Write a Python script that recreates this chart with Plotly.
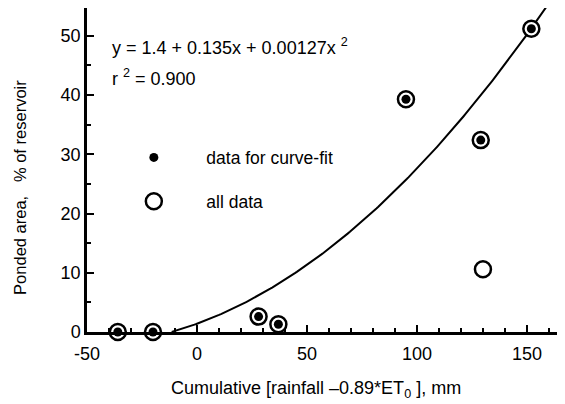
import numpy as np
import plotly.graph_objects as go

# Data
fit_x = [-36, -20, 28, 37, 95, 129, 152]
fit_y = [0, 0, 2.6, 1.3, 39.3, 32.4, 51.2]
all_x = [-36, -20, 28, 37, 95, 129, 152, 130]
all_y = [0, 0, 2.6, 1.3, 39.3, 32.4, 51.2, 10.6]
x_tickvals = [-50, 0, 50, 100, 150]
x_ticktext = ["-50", "0", "50", "100", "150"]
y_tickvals = [0, 10, 20, 30, 40, 50]

# Fitted curve coefficients (from the equation on the chart)
c0, c1, c2 = 1.4, 0.135, 0.00127
curve_x = np.linspace(-11.5, 160, 200)
curve_y = c0 + c1 * curve_x + c2 * curve_x ** 2

FONT = "Liberation Sans, Arial, Helvetica, sans-serif"
NB = "\u00a0"

fig = go.Figure()
fig.add_trace(go.Scatter(x=curve_x, y=curve_y, mode="lines",
                         line=dict(color="black", width=2), showlegend=False,
                         cliponaxis=True))
fig.add_trace(go.Scatter(x=all_x, y=all_y, mode="markers", name="all data",
                         legendgroup="b", legendrank=2,
                         marker=dict(symbol="circle", size=16, color="white",
                                     line=dict(color="black", width=2.5)),
                         cliponaxis=False))
fig.add_trace(go.Scatter(x=fit_x, y=fit_y, mode="markers", name="data for curve-fit",
                         legendgroup="a", legendrank=1,
                         marker=dict(symbol="circle", size=9, color="black",
                                     line=dict(width=0)),
                         cliponaxis=False))

fig.add_annotation(xref="paper", yref="paper", x=0.048, y=0.880, xanchor="left",
                   yanchor="middle", showarrow=False,
                   text="y = 1.4 + 0.135x + 0.00127x <sup>2</sup>",
                   font=dict(size=18, color="black", family=FONT))
fig.add_annotation(xref="paper", yref="paper", x=0.048, y=0.787, xanchor="left",
                   yanchor="middle", showarrow=False,
                   text="r <sup>2</sup> = 0.900",
                   font=dict(size=18, color="black", family=FONT))

# axis titles as annotations (positioned as in the reference)
fig.add_annotation(xref="paper", yref="paper", x=0.479, y=-0.176,
                   xanchor="center", yanchor="middle", showarrow=False,
                   text="Cumulative [rainfall \u20130.89*ET<sub>0</sub> ], mm",
                   font=dict(size=18, color="black", family=FONT))
fig.add_annotation(xref="paper", yref="paper", x=-0.14, y=0.445,
                   xanchor="center", yanchor="middle", showarrow=False,
                   textangle=-90,
                   text="Ponded area," + NB * 3 + "% of reservoir",
                   font=dict(size=16.5, color="black", family=FONT))

fig.update_layout(
    width=557, height=396,
    margin=dict(l=79, r=0, t=0, b=72, pad=0),
    plot_bgcolor="white", paper_bgcolor="white",
    font=dict(family=FONT, size=17, color="black"),
    legend=dict(x=0.03, y=0.594, xanchor="left", yanchor="top",
                bgcolor="rgba(0,0,0,0)", font=dict(size=17.5),
                itemsizing="trace", itemwidth=95, tracegroupgap=18),
    xaxis=dict(range=[-50, 167.3], showgrid=False, zeroline=False,
               showline=True, linecolor="black", linewidth=2.5,
               ticks="inside", ticklen=7, tickwidth=2, tickcolor="black",
               tickvals=x_tickvals, ticktext=x_ticktext,
               tickfont=dict(size=18), ticklabelstandoff=4,
               minor=dict(ticks="inside", ticklen=4, tickwidth=1.5,
                          tickcolor="black", dtick=10)),
    yaxis=dict(range=[0, 54.7], showgrid=False, zeroline=False,
               showline=True, linecolor="black", linewidth=2.5,
               ticks="inside", ticklen=7, tickwidth=2, tickcolor="black",
               tickvals=y_tickvals, tickfont=dict(size=18),
               minor=dict(ticks="inside", ticklen=4, tickwidth=1.5,
                          tickcolor="black", dtick=5)),
)

fig.write_html("out.html")
